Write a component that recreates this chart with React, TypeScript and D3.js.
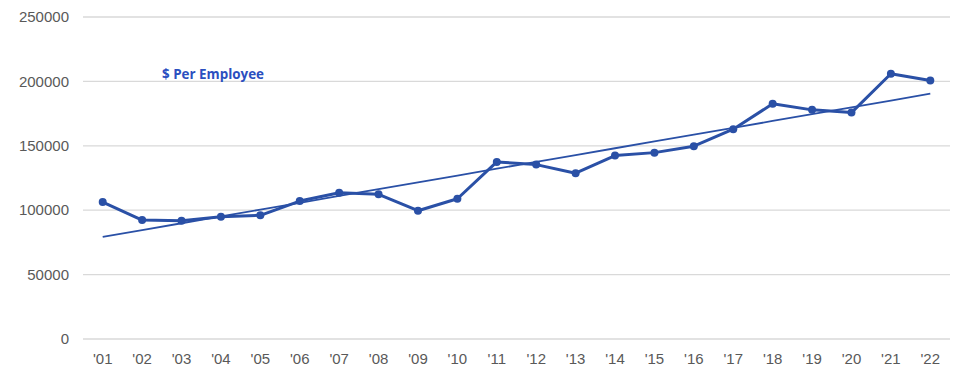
import React from "react";
import * as d3 from "d3";

const years = ["'01", "'02", "'03", "'04", "'05", "'06", "'07", "'08", "'09", "'10", "'11",
  "'12", "'13", "'14", "'15", "'16", "'17", "'18", "'19", "'20", "'21", "'22"];
const perEmployee = [106300, 92300, 91800, 94900, 96000, 107100, 113600, 112300, 99600, 108900, 137500,
  135400, 128700, 142400, 144700, 149700, 162900, 182600, 177900, 175800, 205900, 200700];
const yTicks = [0, 50000, 100000, 150000, 200000, 250000];
const seriesName = "$ Per Employee";

const width = 979;
const height = 373;
const margin = { top: 17, right: 29, bottom: 34, left: 83 };
const blue = "#2a50a6";

// least squares trend line
function trend(values: number[]) {
  const n = values.length;
  const xs = d3.range(n);
  const mx = d3.mean(xs) as number;
  const my = d3.mean(values) as number;
  let num = 0;
  let den = 0;
  xs.forEach((x, i) => {
    num += (x - mx) * (values[i] - my);
    den += (x - mx) * (x - mx);
  });
  const slope = num / den;
  return xs.map(x => my + slope * (x - mx));
}

export default function App() {
  const innerWidth = width - margin.left - margin.right;
  const innerHeight = height - margin.top - margin.bottom;

  const x = d3.scalePoint<string>().domain(years).range([0, innerWidth]).padding(0.5);
  const y = d3.scaleLinear().domain([0, 250000]).range([innerHeight, 0]);

  const line = d3
    .line<number>()
    .x((d, i) => x(years[i]) as number)
    .y(d => y(d));

  const fit = trend(perEmployee);

  return (
    <svg
      width={width}
      height={height}
      style={{ position: "absolute", left: 0, top: 0, background: "#fff" }}
    >
      <g transform={`translate(${margin.left}, ${margin.top})`}>
        {yTicks.map(t => (
          <g key={t}>
            <line x1={0} x2={innerWidth} y1={y(t)} y2={y(t)} stroke="#d9d9d9" strokeWidth={1.3} />
            <text
              x={-14}
              y={y(t)}
              dy="0.35em"
              textAnchor="end"
              fontFamily="Liberation Sans, Arial, sans-serif"
              fontSize={15}
              fill="#595959"
            >
              {t}
            </text>
          </g>
        ))}
        {years.map(yr => (
          <text
            key={yr}
            x={x(yr) as number}
            y={innerHeight + 25}
            textAnchor="middle"
            fontFamily="Liberation Sans, Arial, sans-serif"
            fontSize={15}
            fill="#595959"
          >
            {yr}
          </text>
        ))}
        <path d={line(fit) as string} fill="none" stroke={blue} strokeWidth={1.8} />
        <path d={line(perEmployee) as string} fill="none" stroke={blue} strokeWidth={3} strokeLinejoin="round" />
        {perEmployee.map((v, i) => (
          <circle key={i} cx={x(years[i]) as number} cy={y(v)} r={4} fill={blue} />
        ))}
        <text
          x={79}
          y={61.5}
          fontFamily="Open Sans, sans-serif"
          fontWeight="bold"
          fontSize={13.4}
          fill="#2b4fc0"
        >
          {seriesName}
        </text>
      </g>
    </svg>
  );
}
